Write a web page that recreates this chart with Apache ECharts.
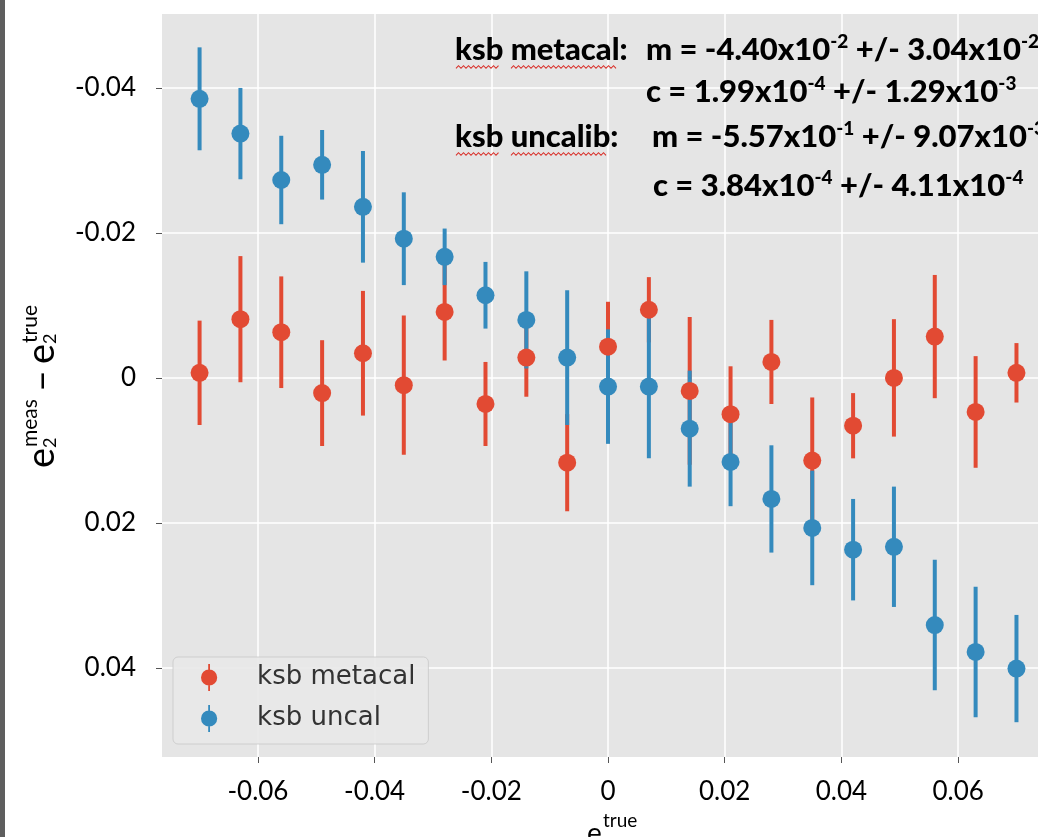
<!DOCTYPE html>
<html><head><meta charset="utf-8">
<script src="https://cdn.jsdelivr.net/npm/echarts@6/dist/echarts.min.js"></script>
<style>html,body{margin:0;padding:0;background:#fff}#c{width:1038px;height:837px}</style>
</head><body><div id="c"></div>
<script>
// e2_true bin centres
const xTrue = [-0.070,-0.063,-0.056,-0.049,-0.042,-0.035,-0.028,-0.021,-0.014,-0.007,0,0.007,0.014,0.021,0.028,0.035,0.042,0.049,0.056,0.063,0.070];
// ksb metacal
const metacalVals = [-0.0007,-0.0081,-0.0063,0.0021,-0.0034,0.0010,-0.0091,0.0036,-0.0028,0.0117,-0.0043,-0.0094,0.0018,0.0050,-0.0022,0.0114,0.0066,0.0000,-0.0057,0.0047,-0.0007];
const metacalErrs = [0.0072,0.0087,0.0077,0.0073,0.0086,0.0096,0.0067,0.0058,0.0054,0.0067,0.0062,0.0045,0.0102,0.0066,0.0058,0.0087,0.0045,0.0081,0.0085,0.0077,0.0041];
// ksb uncal
const uncalVals = [-0.0385,-0.0337,-0.0273,-0.0294,-0.0236,-0.0192,-0.0167,-0.0114,-0.0080,-0.0028,0.0012,0.0012,0.0070,0.0116,0.0167,0.0207,0.0237,0.0233,0.0341,0.0378,0.0401];
const uncalErrs = [0.0071,0.0063,0.0061,0.0048,0.0077,0.0064,0.0039,0.0046,0.0067,0.0093,0.0079,0.0099,0.0080,0.0061,0.0074,0.0079,0.0070,0.0083,0.0090,0.0090,0.0074];
// tick labels
const xTicks = [-0.06,-0.04,-0.02,0,0.02,0.04,0.06];
const yTicks = [-0.04,-0.02,0,0.02,0.04];
const seriesNames = ['ksb metacal','ksb uncal'];
const annotation = [
  ['ksb metacal:', 'm = -4.40x10{s|-2} +/- 3.04x10{s|-2}'],
  ['', 'c = 1.99x10{s|-4} +/- 1.29x10{s|-3}'],
  ['ksb uncalib:', 'm = -5.57x10{s|-1} +/- 9.07x10{s|-3}'],
  ['', 'c = 3.84x10{s|-4} +/- 4.11x10{s|-4}']
];

const RED = '#E24A33', BLUE = '#348ABD';
const chart = echarts.init(document.getElementById('c'), null, {renderer:'canvas'});
const fmt = v => Math.abs(v) < 1e-9 ? '0' : v.toFixed(2);

function errSeries(name, vals, errs, color) {
  return {
    name, type:'custom', z: 2,
    data: xTrue.map((x,i)=>[x, vals[i], errs[i]]),
    encode:{x:0,y:1},
    itemStyle:{color},
    renderItem(params, api) {
      const x = api.value(0), y = api.value(1), e = api.value(2);
      const p1 = api.coord([x, y - e]), p2 = api.coord([x, y + e]);
      return {type:'line', shape:{x1:p1[0],y1:p1[1],x2:p2[0],y2:p2[1]}, style:{stroke:color, lineWidth:4}};
    }
  };
}
function dotSeries(name, vals, color) {
  return {name, type:'scatter', z: 3, symbol:'circle', symbolSize:18,
    data: xTrue.map((x,i)=>[x, vals[i]]), itemStyle:{color, opacity:1}};
}

const icon = 'path://M9,0 L11,0 L11,30 L9,30 Z M1,15 A9,9 0 1,1 19,15 A9,9 0 1,1 1,15 Z';
const labelFont = {fontFamily:'Lato', fontSize:26, color:'#000'};
const annFont = 'Lato';
const ANN = 31;

const graphics = [
  {type:'rect', left:0, top:0, shape:{width:5, height:837}, style:{fill:'#5e5e5e'}, z:10}
];
const lineMid = [50, 92, 137, 186];
const leftX = [455, 646, 455, 652];
const rightX = [646, 646, 652, 653];
annotation.forEach((row, i) => {
  if (row[0]) graphics.push({type:'text', x: leftX[i], y: lineMid[i], z:20,
    style:{text: row[0], fontFamily: annFont, fontWeight:900, fontSize:ANN, fill:'#000', verticalAlign:'middle', lineHeight:36}});
  graphics.push({type:'text', x: rightX[i], y: lineMid[i], z:20,
    style:{text: row[1], fontFamily: annFont, fontWeight:900, fontSize:ANN, fill:'#000', verticalAlign:'middle', lineHeight:36,
      rich:{s:{fontFamily: annFont, fontWeight:900, fontSize:19, verticalAlign:'top', lineHeight:20, fill:'#000'}}}});
});
// spell-check squiggles under the annotation words
function squiggle(x0, x1, y) {
  const pts = [];
  for (let x = x0, k = 0; x <= x1; x += 2.5, k++) pts.push([x, y + (k % 2 ? -1.3 : 1.3)]);
  return {type:'polyline', z:21, shape:{points:pts}, style:{stroke:'#D9302A', lineWidth:1.1, fill:null}};
}
graphics.push(squiggle(456, 500, 67), squiggle(511, 618, 67), squiggle(456, 500, 154), squiggle(511, 606, 154));

// text placed by baseline (local coords): middle = baseline - 0.3*size
const tx = (t, x, base, size) => ({type:'text', x, y: base - 0.3*size, style:{text:t, fontFamily:'Lato', fontSize:size, fill:'#000', verticalAlign:'middle'}});
// y-axis title (rotated): e_2^meas – e_2^true
graphics.push({type:'group', x:53, y:468, rotation:Math.PI/2, z:20, children:[
  tx('e', 0, 0, 38), tx('2', 20, 3, 18), tx('meas', 21, -16, 21),
  tx('–', 76, 0, 38),
  tx('e', 104, 0, 38), tx('2', 124, 3, 18), tx('true', 125, -16, 21)
]});
// x-axis title: e_2^true
graphics.push({type:'group', x:587, y:842, z:20, children:[
  tx('e', 0, 0, 28), tx('2', 15, 8, 17), tx('true', 16, -15, 19)
]});

chart.setOption({
  backgroundColor:'#fff',
  animation:false,
  grid:{left:162, right:0, top:14, bottom:80, show:true, backgroundColor:'#E5E5E5', borderWidth:0},
  xAxis:{type:'value', min:-0.07644, max:0.07369, minInterval:0.02, maxInterval:0.02, splitNumber:7,
    axisLine:{show:false, onZero:false},
    axisTick:{show:true, length:6, lineStyle:{color:'#555', width:1}, customValues:xTicks},
    axisLabel:{...labelFont, margin:22, customValues:xTicks, formatter:fmt},
    splitLine:{show:true, lineStyle:{color:'#fff', width:1.5}}},
  yAxis:{type:'value', inverse:true, min:-0.0502, max:0.0523, minInterval:0.02, maxInterval:0.02, splitNumber:5,
    axisLine:{show:false, onZero:false},
    axisTick:{show:true, length:6, lineStyle:{color:'#555', width:1}, customValues:yTicks},
    axisLabel:{...labelFont, margin:26, customValues:yTicks, formatter:fmt},
    splitLine:{show:true, lineStyle:{color:'#fff', width:1.5}}},
  legend:{orient:'vertical', left:173, top:657,
    data:[{name:seriesNames[0], icon, itemStyle:{color:RED}}, {name:seriesNames[1], icon, itemStyle:{color:BLUE}}],
    itemWidth:18, itemHeight:27, itemGap:14, padding:[7, 13, 12, 28],
    backgroundColor:'rgba(232,232,232,0.9)', borderColor:'rgba(200,200,200,0.8)', borderWidth:1, borderRadius:5,
    textStyle:{fontFamily:'DejaVu Sans', fontSize:26, color:'#333', padding:[0,0,0,34]}},
  graphic: graphics,
  series:[
    errSeries(seriesNames[0], metacalVals, metacalErrs, RED),
    dotSeries(seriesNames[0], metacalVals, RED),
    errSeries(seriesNames[1], uncalVals, uncalErrs, BLUE),
    dotSeries(seriesNames[1], uncalVals, BLUE)
  ]
});
</script></body></html>
